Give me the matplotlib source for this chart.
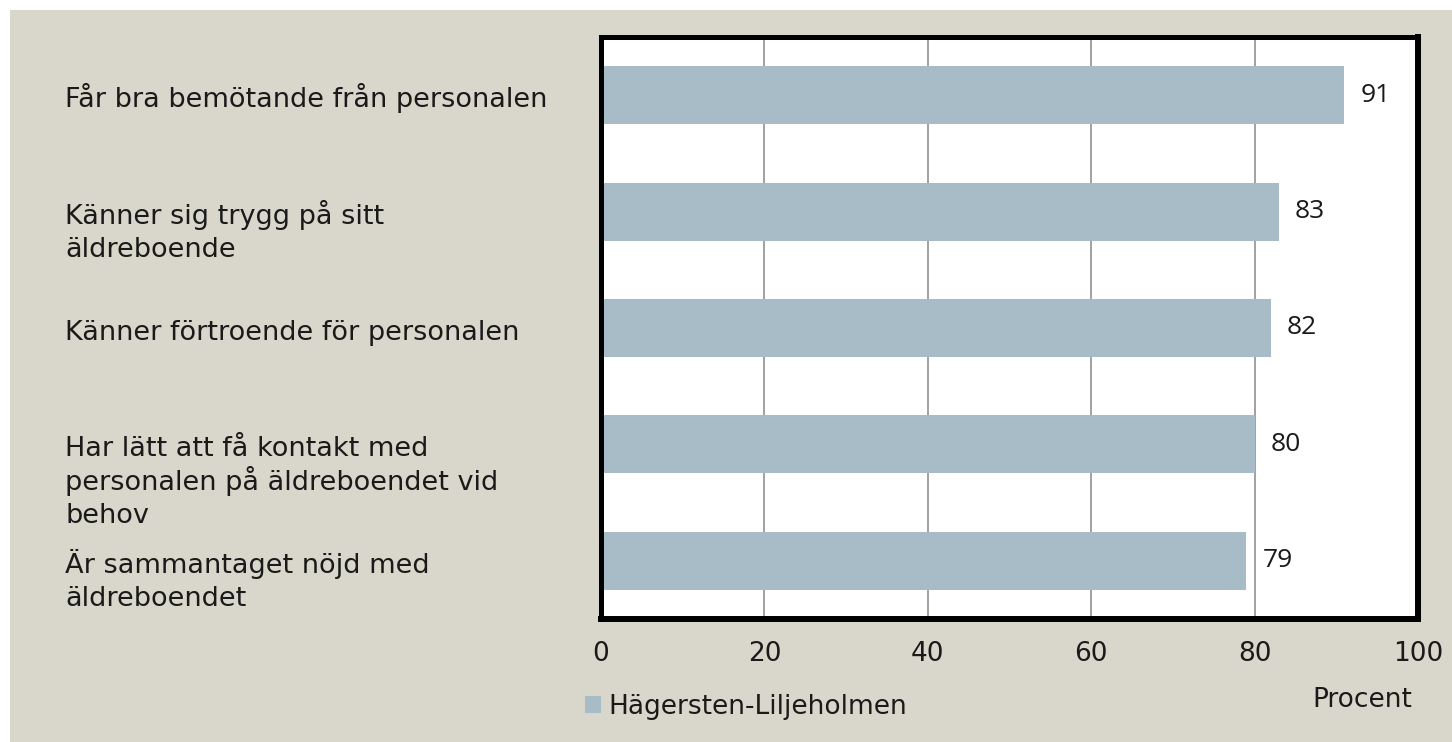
import matplotlib
matplotlib.use("Agg")
import matplotlib.pyplot as plt
import matplotlib.transforms as mtransforms
from matplotlib.patches import Rectangle

# Data
categories = [
    "Får bra bemötande från personalen",
    "Känner sig trygg på sitt\näldreboende",
    "Känner förtroende för personalen",
    "Har lätt att få kontakt med\npersonalen på äldreboendet vid\nbehov",
    "Är sammantaget nöjd med\näldreboendet",
]
values = [91, 83, 82, 80, 79]
series_name = "Hägersten-Liljeholmen"
xticks = [0, 20, 40, 60, 80, 100]
xlabel = "Procent"

W, H = 1452, 742
BEIGE = "#d9d7cb"
BAR = "#a8bcc7"
TXT = "#1a1a1a"
LABEL_FONT = "DejaVu Sans"
VALUE_FONT = "Open Sans"
FS = 19.5

fig = plt.figure(figsize=(W / 100, H / 100), dpi=100, facecolor="white")
fig.patches.append(Rectangle((10 / W, 0), 1, (H - 10) / H, transform=fig.transFigure,
                             facecolor=BEIGE, edgecolor="none", zorder=-10))

ax = fig.add_axes([601 / W, 1 - 619 / H, 817 / W, 582 / H])
ax.set_facecolor("white")

ypos = list(range(len(values)))
bars = ax.barh(ypos, values, height=0.5, color=BAR, label=series_name, zorder=2)
ax.bar_label(bars, labels=[str(v) for v in values], padding=11.5,
             fontsize=19, family=VALUE_FONT, color=TXT)

ax.set_xlim(0, 100)
ax.set_ylim(len(values) - 0.5, -0.5)
ax.set_xticks(xticks)
ax.set_yticks([])
ax.tick_params(axis="x", length=0, pad=16, labelsize=19, labelcolor=TXT)
for lab in ax.get_xticklabels():
    lab.set_family(LABEL_FONT)
ax.grid(axis="x", color="#888888", linewidth=1.1)
ax.set_axisbelow(True)

for side in ("left", "top"):
    ax.spines[side].set_linewidth(3.6)
    ax.spines[side].set_color("black")
for side in ("right", "bottom"):
    ax.spines[side].set_linewidth(4.3)
    ax.spines[side].set_color("black")

# category labels: first line sits on the bar centre, one text per line
trans = mtransforms.blended_transform_factory(fig.transFigure, ax.transData)
for y, cat in zip(ypos, categories):
    for k, line in enumerate(cat.split("\n")):
        shift = mtransforms.ScaledTranslation(0, -(12 + 33.5 * k) / 100, fig.dpi_scale_trans)
        ax.text(65 / W, y, line, transform=trans + shift, ha="left", va="baseline",
                fontsize=FS, family=LABEL_FONT, color=TXT)

fig.text(1412 / W, 1 - 707 / H, xlabel, ha="right", va="baseline",
         fontsize=19, family=LABEL_FONT, color=TXT)

fig.legend(loc="center left", bbox_to_anchor=(585 / W, 1 - 707 / H), frameon=False,
           prop={"family": LABEL_FONT, "size": 19},
           handlelength=0.6, handleheight=0.6, handletextpad=0.3,
           borderpad=0, borderaxespad=0, labelcolor=TXT)

fig.savefig("out.png", dpi=100, facecolor=fig.get_facecolor())
